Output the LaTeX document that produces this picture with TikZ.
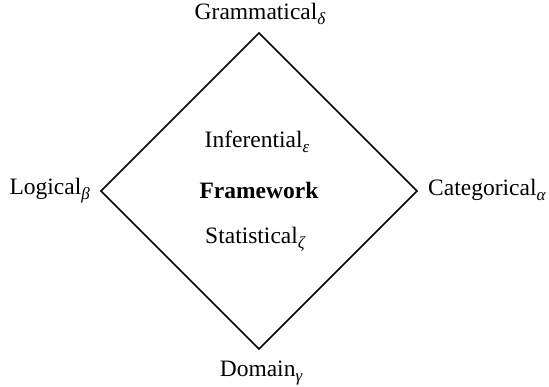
\documentclass[tikz,border=0pt]{standalone}
\usepackage{fontspec}
\setmainfont{Liberation Serif}
\newcommand{\mysub}[1]{\raisebox{-4.5pt}{\fontsize{17}{17}\selectfont\itshape #1}}
\tikzset{
  lbl/.style={inner sep=0pt, font=\fontsize{23.5}{27}\selectfont},
  edge/.style={line width=1.5pt, line join=miter}
}
\begin{document}
\begin{tikzpicture}[x=1pt,y=-1pt]
\useasboundingbox (0,0) rectangle (549,387);
\coordinate (T) at (259,33);
\coordinate (R) at (417,191);
\coordinate (B) at (259,349);
\coordinate (L) at (101,191);
\draw[edge] (T) -- (R) -- (B) -- (L) -- cycle;
\node[lbl, anchor=base] (gram) at (260,20) {Grammatical\mysub{δ}};
\node[lbl, anchor=base east] (logi) at (90,195) {Logical\mysub{β}};
\node[lbl, anchor=base west] (cate) at (428,196) {Categorical\mysub{α}};
\node[lbl, anchor=base] (doma) at (261,377) {Domain\mysub{γ}};
\node[lbl, anchor=base] (infe) at (257,148) {Inferential\mysub{ε}};
\node[lbl, anchor=base, font=\fontsize{23.5}{27}\selectfont\bfseries] (fram) at (259,199) {Framework};
\node[lbl, anchor=base] (stat) at (255,244) {Statistical\mysub{ζ}};
\end{tikzpicture}
\end{document}
